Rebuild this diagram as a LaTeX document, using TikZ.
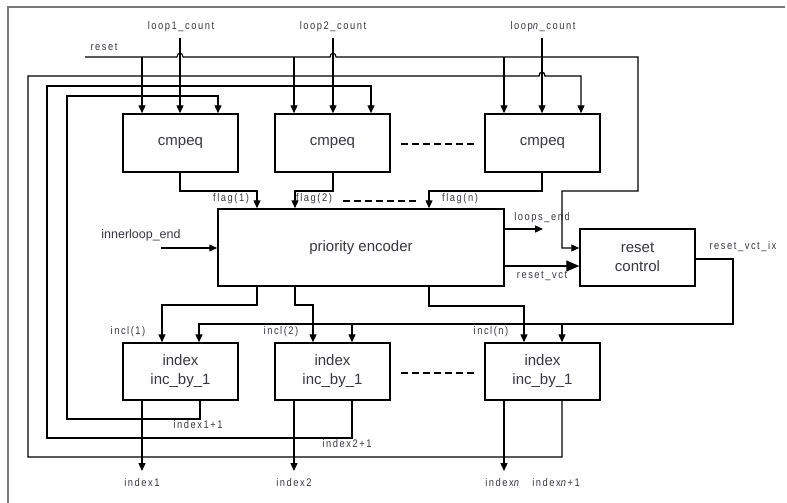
\documentclass[tikz,border=0pt]{standalone}
\usepackage{fontspec}
\setmainfont{Liberation Sans}
\newfontfamily\lblfont[FakeStretch=0.85,LetterSpace=14]{Liberation Sans}
\usetikzlibrary{arrows.meta}
\definecolor{txt}{RGB}{55,55,65}
\definecolor{framec}{RGB}{120,120,120}
\begin{document}
\begin{tikzpicture}[x=1pt,y=-1pt,
  box/.style={draw,line width=1.5pt,minimum width=115pt,minimum height=58pt,inner sep=0pt,
    font=\fontsize{15}{19}\selectfont,text=txt,align=center},
  wire/.style={line width=1.4pt},
  thinwire/.style={line width=1.1pt},
  arr/.style={wire,-{Triangle[length=8pt,width=7pt]}},
  bigarr/.style={wire,-{Triangle[length=13pt,width=11pt]}},
  lbl/.style={font=\lblfont\fontsize{11}{13}\selectfont,text=txt,inner sep=0pt},
  dotsline/.style={line width=2pt,dash pattern=on 7pt off 4pt},
  frame/.style={line width=1.5pt,draw=framec}]
\useasboundingbox (0,0) rectangle (787,503);
\foreach \v in {28,47,67,142,162,180,199,200,218,257,294,295,313,333,352,371,429,504,524,542,562,581}
  \coordinate (X\v) at (\v,0);
\foreach \v in {229,248,259,266}
  \coordinate (Y\v) at (0,\v);
% frame
\draw[frame] (8,503) -- (8,7) -- (785,7);
% blocks
\node[box] (cmp1) at (180.5,143) {cmpeq};
\node[box] (cmp2) at (332.5,143) {cmpeq};
\node[box] (cmpn) at (542.5,143) {cmpeq};
\node[box,minimum width=286pt,minimum height=77pt] (pe) at (361,247.5) {priority encoder};
\node[box,minimum height=57pt] (rc) at (637.5,257.5) {reset\\control};
\node[box,minimum height=57pt] (ix1) at (180.5,371.5) {index\\inc\_by\_1};
\node[box,minimum height=57pt] (ix2) at (332.5,371.5) {index\\inc\_by\_1};
\node[box,minimum height=57pt] (ixn) at (542.5,371.5) {index\\inc\_by\_1};
% labels
\node[lbl] (l1) at (181,27) {loop1\_count};
\node[lbl] (l2) at (333,27) {loop2\_count};
\node[lbl] (ln) at (543,27) {loop\textit{n}\_count};
\node[lbl] (rst) at (104,47) {reset};
\node[lbl] (fl1) at (231,199) {flag(1)};
\node[lbl] (fl2) at (314,199) {flag(2)};
\node[lbl] (fln) at (460,199) {flag(n)};
\node[lbl,font=\fontsize{12.5}{14}\selectfont] (ile) at (141,235) {innerloop\_end};
\node[lbl] (le) at (542,218) {loops\_end};
\node[lbl] (rv) at (542,276) {reset\_vct};
\node[lbl] (rvi) at (743,247) {reset\_vct\_ix};
\node[lbl] (in1) at (128,332) {incl(1)};
\node[lbl] (in2) at (281,332) {incl(2)};
\node[lbl] (inn) at (491,332) {incl(n)};
\node[lbl] (p1) at (198,425) {index1+1};
\node[lbl] (p2) at (347,444) {index2+1};
\node[lbl] (o1) at (142,483) {index1};
\node[lbl] (o2) at (294,483) {index2};
\node[lbl] (on) at (503,483) {index\textit{n}};
\node[lbl] (pn) at (556,483) {index\textit{n}+1};
% reset line
\coordinate (rs) at (85,57);
\draw[thinwire,-{Triangle[length=8pt,width=7pt]}] (rs) -- (177,57) .. controls (177,52) and (183,52) .. (183,57)
  -- (330,57) .. controls (330,52) and (336,52) .. (336,57)
  -- (638,57) -- (638,191) -- (562,191) -- (562,248) -- (rc.west |- Y248);
\foreach \x/\b in {142/cmp1,294/cmp2,504/cmpn}
  \draw[arr] (X\x |- rs) -- (\b.north -| X\x);
% loop count inputs
\coordinate (lt) at (0,38);
\draw[arr] (X180 |- lt) -- (cmp1.north -| X180);
\draw[arr] (X333 |- lt) -- (cmp2.north -| X333);
\draw[arr] (X542 |- lt) -- (cmpn.north -| X542);
% feedback loops
\draw[arr] (ix1.south -| X200) -- (200,419) -- (67,419) -- (67,96) -- (218,96) -- (cmp1.north -| X218);
\draw[arr] (ix2.south -| X352) -- (352,438) -- (47,438) -- (47,86) -- (371,86) -- (cmp2.north -| X371);
\draw[arr] (ixn.south -| X562) -- (562,457) -- (28,457) -- (28,76) -- (539,76)
  .. controls (539,71) and (545,71) .. (545,76) -- (581,76) -- (cmpn.north -| X581);
% flags
\draw[arr] (cmp1.south -| X180) -- (180,191) -- (257,191) -- (pe.north -| X257);
\draw[arr] (cmp2.south -| X333) -- (333,191) -- (295,191) -- (pe.north -| X295);
\draw[arr] (cmpn.south -| X542) -- (542,191) -- (429,191) -- (pe.north -| X429);
% encoder in/out
\coordinate (ilsrc) at (161,248);
\draw[arr] (ilsrc) -- (pe.west |- ilsrc);
\coordinate (leend) at (543,229);
\draw[arr] (pe.east |- Y229) -- (leend);
\draw[bigarr] (pe.east |- Y266) -- (rc.west |- Y266);
% reset_vct_ix bus
\draw[arr] (rc.east |- Y259) -- (733,259) -- (733,324) -- (199,324) -- (ix1.north -| X199);
\draw[arr] (352,324) -- (ix2.north -| X352);
\draw[arr] (562,324) -- (ixn.north -| X562);
% encoder to index
\draw[arr] (pe.south -| X257) -- (257,305) -- (162,305) -- (ix1.north -| X162);
\draw[arr] (pe.south -| X295) -- (295,305) -- (313,305) -- (ix2.north -| X313);
\draw[arr] (pe.south -| X429) -- (429,306) -- (524,306) -- (ixn.north -| X524);
% outputs
\coordinate (ob) at (0,471);
\draw[arr] (ix1.south -| X142) -- (X142 |- ob);
\draw[arr] (ix2.south -| X294) -- (X294 |- ob);
\draw[arr] (ixn.south -| X504) -- (X504 |- ob);
% dashed continuation marks
\draw[dotsline] (401,144) -- (475,144);
\draw[dotsline] (343,201) -- (417,201);
\draw[dotsline] (401,373) -- (475,373);
\end{tikzpicture}
\end{document}
